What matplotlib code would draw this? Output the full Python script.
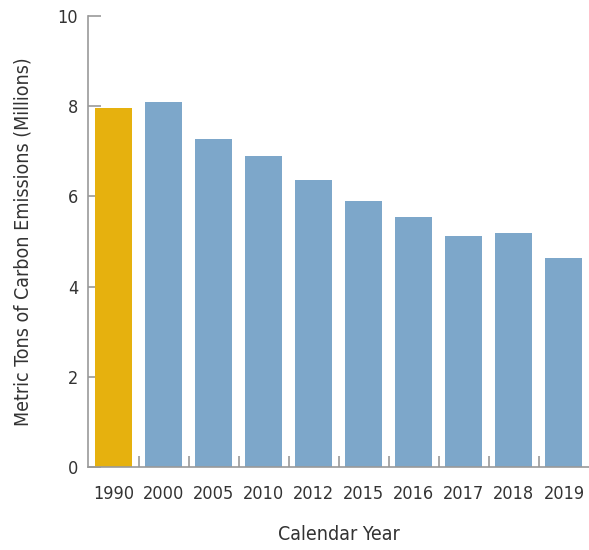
import matplotlib
matplotlib.use('Agg')
import matplotlib.pyplot as plt
from matplotlib.ticker import FixedLocator

# values (millions of metric tons)
years = ['1990', '2000', '2005', '2010', '2012', '2015', '2016', '2017', '2018', '2019']
emissions = [7.96, 8.09, 7.27, 6.90, 6.36, 5.90, 5.54, 5.12, 5.19, 4.63]
y_ticks = [0, 2, 4, 6, 8, 10]

C_BASE, C_OTHER = '#E6B10E', '#7DA7CA'
TXT = '#333333'
AXC = '#999999'

plt.rcParams['font.family'] = ['DejaVu Sans']
plt.rcParams['font.stretch'] = 'condensed'

fig = plt.figure(figsize=(5.89, 5.50), dpi=100)
ax = fig.add_axes([88 / 589, 1 - 467 / 550, 1 - 88 / 589, (467 - 16) / 550])

xs = range(len(years))
colors = [C_BASE] + [C_OTHER] * (len(years) - 1)
ax.bar(xs, emissions, width=0.74, color=colors, zorder=2)

ax.set_xlim(-0.51, len(years) - 0.5)
ax.set_ylim(0, 10)
ax.set_yticks(y_ticks)
ax.set_xticks(list(xs))
ax.set_xticklabels(years)
ax.xaxis.set_minor_locator(FixedLocator([i + 0.5 for i in range(len(years) - 1)]))

for s in ('top', 'right'):
    ax.spines[s].set_visible(False)
for s in ('left', 'bottom'):
    ax.spines[s].set_color(AXC)
    ax.spines[s].set_linewidth(1.2)

ax.tick_params(axis='y', direction='in', length=9, width=1.2, color=AXC,
               labelsize=13, labelcolor=TXT, pad=7)
ax.tick_params(axis='x', which='major', length=0, labelsize=13, labelcolor=TXT, pad=13)
ax.tick_params(axis='x', which='minor', direction='in', length=8, width=1.2, color=AXC)

ax.set_xlabel('Calendar Year', fontsize=14, color=TXT, labelpad=16)
ax.set_ylabel('Metric Tons of Carbon Emissions (Millions)', fontsize=14, color=TXT, labelpad=18)

fig.savefig('out.png', dpi=100)
